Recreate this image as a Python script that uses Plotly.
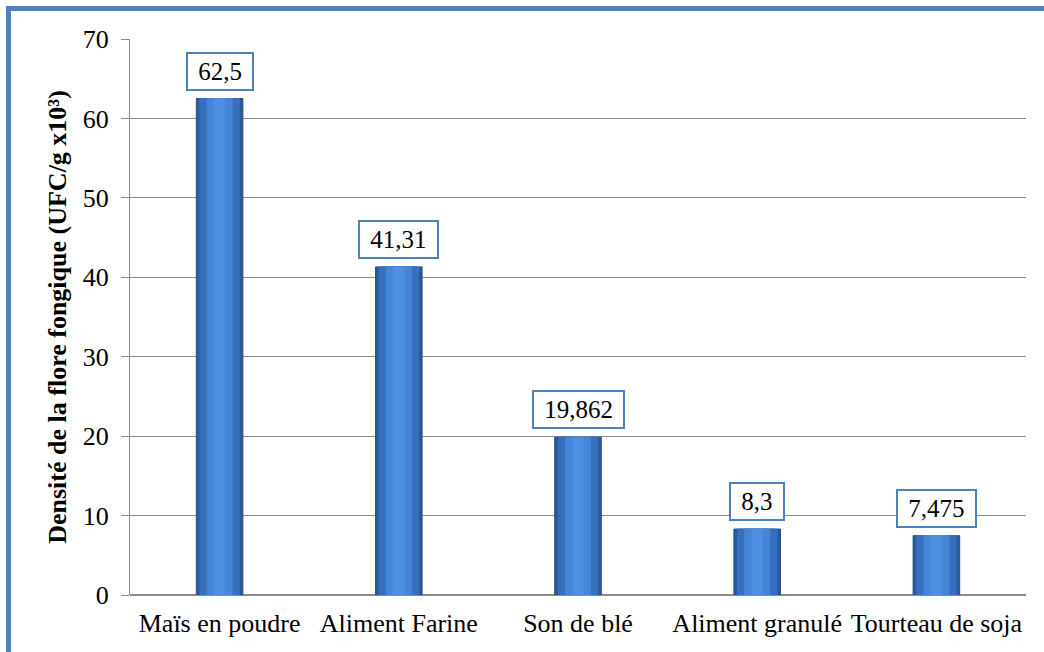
import plotly.graph_objects as go

# Fungal flora density per feed type
categories = ["Maïs en poudre", "Aliment Farine", "Son de blé", "Aliment granulé", "Tourteau de soja"]
values = [62.5, 41.31, 19.862, 8.3, 7.475]
labels = ["62,5", "41,31", "19,862", "8,3", "7,475"]
y_ticks = [0, 10, 20, 30, 40, 50, 60, 70]

SERIF = "Liberation Serif, Times New Roman, Times, serif"

W, H = 1044, 652
ml, mr, mt, mb = 130, 18, 39, 57
pw, ph = W - ml - mr, H - mt - mb

fig = go.Figure()

# layered bars give a shaded, bevelled column look
layers = [
    (0.26, "#2a5a9a", "#25508a"),
    (0.22, "#3670bd", "#3670bd"),
    (0.14, "#4485d6", "#4485d6"),
    (0.06, "#4d8fe0", "#4d8fe0"),
]
for w, fill, line in layers:
    fig.add_trace(go.Bar(
        x=categories, y=values, width=w,
        marker=dict(color=fill, line=dict(color=line, width=1)),
        hoverinfo="skip", showlegend=False,
    ))

for c, v, t in zip(categories, values, labels):
    fig.add_annotation(
        x=c, y=v, text="&nbsp;" + t + "&nbsp;", showarrow=False,
        yanchor="bottom", yshift=8,
        font=dict(family=SERIF, size=25, color="black"),
        bgcolor="white", bordercolor="#4f81bd", borderwidth=2, borderpad=4,
    )

# outer frame around the chart
fig.add_shape(
    type="rect", xref="paper", yref="paper",
    x0=(8.5 - ml) / pw, x1=(W + 20 - ml) / pw,
    y0=-(mb + 20) / ph, y1=1 + (mt - 8.5) / ph,
    line=dict(color="#4f81bd", width=5), layer="above",
)

fig.update_layout(
    width=W, height=H,
    margin=dict(l=ml, r=mr, t=mt, b=mb),
    plot_bgcolor="white", paper_bgcolor="white",
    barmode="overlay",
    font=dict(family=SERIF, color="black"),
)
fig.update_xaxes(
    showgrid=False, showline=False, ticks="",
    tickfont=dict(family=SERIF, size=26), ticklabelstandoff=10,
)
fig.update_yaxes(
    range=[0, 70], tickvals=y_ticks,
    showgrid=True, gridcolor="#8c8c8c", gridwidth=1,
    showline=True, linecolor="#8c8c8c", linewidth=1,
    ticks="outside", ticklen=8, tickcolor="#8c8c8c",
    tickfont=dict(family=SERIF, size=26), ticklabelstandoff=7,
    zeroline=True, zerolinecolor="#8c8c8c",
    title=dict(text="<b>Densité de la flore fongique (UFC/g x10³)</b>",
               font=dict(family=SERIF, size=26), standoff=8),
)

fig.write_html("out.html")
